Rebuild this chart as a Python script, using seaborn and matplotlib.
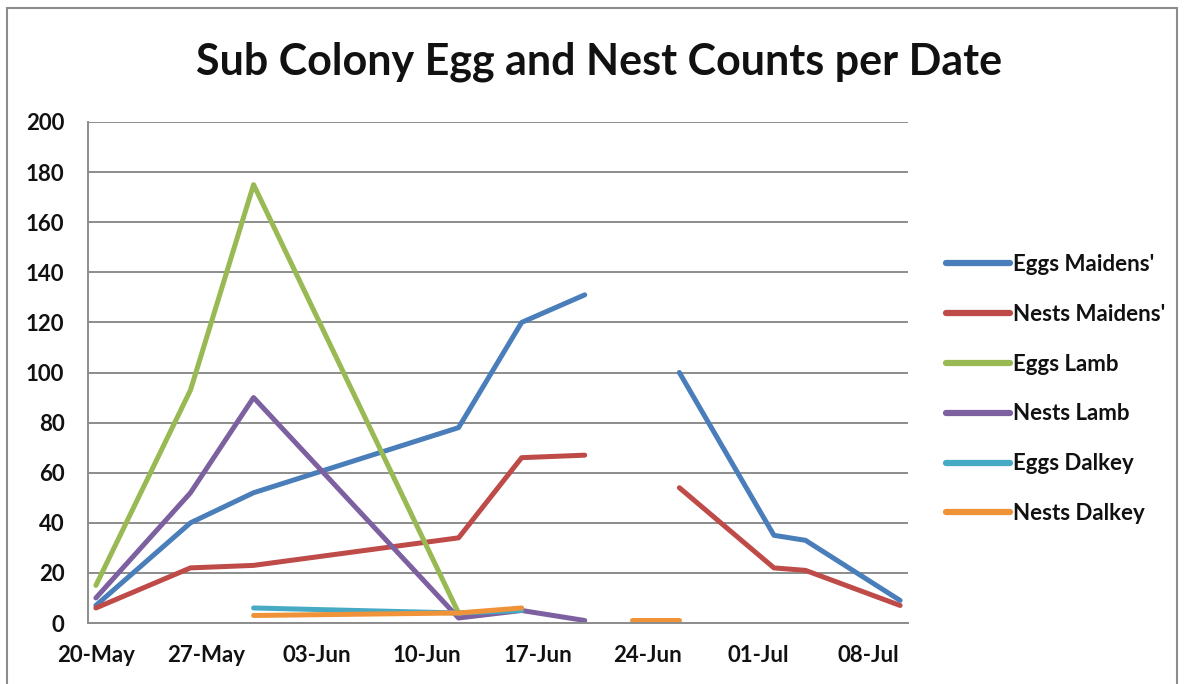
import matplotlib
matplotlib.use("Agg")
import matplotlib.pyplot as plt
import matplotlib.dates as mdates
from matplotlib.patches import Rectangle
import numpy as np
import pandas as pd
import seaborn as sns

# Survey dates and counts per sub colony (blank survey = NaN, shown as a break)
dates = ["2013-05-20", "2013-05-26", "2013-05-30", "2013-06-12", "2013-06-16",
         "2013-06-20", "2013-06-23", "2013-06-26", "2013-07-02", "2013-07-04",
         "2013-07-10"]
nan = np.nan
eggs_maidens = [7, 40, 52, 78, 120, 131, nan, 100, 35, 33, 9]
nests_maidens = [6, 22, 23, 34, 66, 67, nan, 54, 22, 21, 7]
eggs_lamb = [15, 93, 175, 4, nan, nan, nan, nan, nan, nan, nan]
nests_lamb = [10, 52, 90, 2, 5, 1, nan, nan, nan, nan, nan]
eggs_dalkey = [nan, nan, 6, 4, 5, nan, nan, nan, nan, nan, nan]
nests_dalkey = [nan, nan, 3, 4, 6, nan, 1, 1, nan, nan, nan]

series_names = ["Eggs Maidens'", "Nests Maidens'", "Eggs Lamb", "Nests Lamb",
                "Eggs Dalkey", "Nests Dalkey"]
series_values = [eggs_maidens, nests_maidens, eggs_lamb, nests_lamb,
                 eggs_dalkey, nests_dalkey]
colors = ["#4A7EBB", "#BE4B48", "#98B954", "#7D60A0", "#46AAC5", "#F09238"]

# Long table; each unbroken run of values gets its own segment id
rows = []
for name, vals in zip(series_names, series_values):
    seg = 0
    for d, v in zip(dates, vals):
        if np.isnan(v):
            seg += 1
            continue
        rows.append({"Date": pd.Timestamp(d), "Count": v, "Series": name,
                     "Segment": f"{name}-{seg}"})
df = pd.DataFrame(rows)

sns.set_theme(style="white")
plt.rcParams["font.family"] = ["Lato", "DejaVu Sans"]

W, H = 1185, 684
fig = plt.figure(figsize=(W / 100, H / 100), dpi=100)
fig.patch.set_facecolor("white")

ax = fig.add_axes([88 / W, 1 - 623 / H, (908 - 88) / W, (623 - 122) / H])

sns.lineplot(data=df, x="Date", y="Count", hue="Series", units="Segment",
             estimator=None, hue_order=series_names, palette=colors,
             linewidth=3.6, ax=ax, legend=True, sort=True)
for line in ax.get_lines():
    line.set_solid_capstyle("round")
    line.set_solid_joinstyle("round")

start = pd.Timestamp("2013-05-20")
ax.set_xlim(start - pd.Timedelta(hours=12), pd.Timestamp("2013-07-10") + pd.Timedelta(hours=12))
ax.set_ylim(0, 200)
ax.set_yticks(np.arange(0, 201, 20))
ax.set_xticks(pd.date_range(start, periods=8, freq="7D"))
ax.xaxis.set_major_formatter(mdates.DateFormatter("%d-%b"))
ax.set_xlabel("")
ax.set_ylabel("")

ax.yaxis.grid(True, color="#8C8C8C", linewidth=1.4)
ax.set_axisbelow(True)
for side in ["top", "right"]:
    ax.spines[side].set_visible(False)
for side in ["left", "bottom"]:
    ax.spines[side].set_color("#8C8C8C")
    ax.spines[side].set_linewidth(1.4)
ax.tick_params(axis="both", length=0, labelsize=16, labelcolor="#111111")
ax.tick_params(axis="y", pad=17)
ax.tick_params(axis="x", pad=16)
for lbl in ax.get_xticklabels() + ax.get_yticklabels():
    lbl.set_fontweight("bold")

handles, labels = ax.get_legend_handles_labels()
ax.legend_.remove()
leg = fig.legend(handles, labels, loc="center left",
                 bbox_to_anchor=(937 / W, 1 - 389 / H), frameon=False,
                 prop={"size": 16, "weight": "bold"}, handlelength=2.9,
                 handletextpad=0.12, labelspacing=1.3, borderaxespad=0)
for txt in leg.get_texts():
    txt.set_color("#111111")
for h in leg.legend_handles:
    h.set_linewidth(4.5)
    h.set_solid_capstyle("round")

fig.text(599 / W, 1 - 62 / H, "Sub Colony Egg and Nest Counts per Date",
         ha="center", va="center", fontsize=31, fontweight="bold", color="#111111")

# Chart frame
fig.add_artist(Rectangle((7 / W, -0.05), (1177 - 7) / W, 1.05 - 8 / H,
                         transform=fig.transFigure, fill=False,
                         edgecolor="#8C8C8C", linewidth=1.5))

fig.savefig("out.png", dpi=100, facecolor="white")
